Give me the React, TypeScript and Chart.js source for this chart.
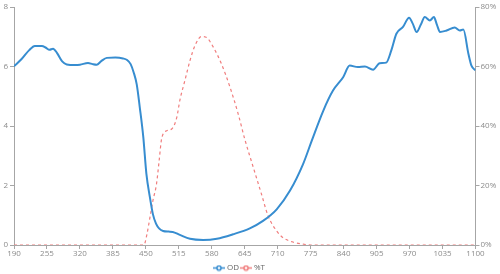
import React, { useEffect, useRef } from "react";
import { Chart, registerables } from "chart.js";

Chart.register(...registerables);

const odWavelengths = [190, 205, 220, 231, 245, 253, 260, 267, 275, 285, 294, 310, 320, 336, 345, 353, 362, 373, 390, 405, 413, 420, 426, 432, 438, 445, 451, 458, 464, 470, 476, 484, 495, 503, 517, 537, 563, 590, 622, 655, 681, 708, 734, 760, 777, 800, 819, 839, 852, 868, 882, 898, 911, 924, 934, 944, 957, 969, 976, 984, 992, 1000, 1010, 1018, 1024, 1030, 1043, 1059, 1069, 1076, 1086, 1092, 1100];
const odValues = [6.01, 6.25, 6.55, 6.69, 6.69, 6.63, 6.56, 6.6, 6.45, 6.17, 6.07, 6.05, 6.06, 6.12, 6.08, 6.06, 6.18, 6.29, 6.3, 6.27, 6.22, 6.08, 5.8, 5.4, 4.63, 3.62, 2.4, 1.6, 1.03, 0.72, 0.56, 0.47, 0.45, 0.44, 0.34, 0.21, 0.17, 0.21, 0.36, 0.56, 0.81, 1.2, 1.82, 2.72, 3.5, 4.52, 5.19, 5.64, 6.03, 5.98, 6.0, 5.89, 6.11, 6.13, 6.54, 7.1, 7.33, 7.64, 7.45, 7.16, 7.4, 7.66, 7.55, 7.66, 7.4, 7.16, 7.21, 7.31, 7.21, 7.24, 6.43, 6.03, 5.87];

const tWavelengths = [190, 446, 452, 458, 464, 471, 476, 481, 491, 501, 511, 517, 527, 537, 547, 560, 570, 583, 599, 616, 632, 645, 662, 678, 691, 708, 720, 740, 760, 775, 1100];
const tValues = [0, 0, 3.5, 9.2, 15, 20.5, 28, 35.6, 38.4, 39, 42.9, 48.6, 55.3, 62, 67.1, 70.1, 69.7, 66.5, 60.9, 53, 44.1, 35.6, 26, 17.1, 9.8, 4.7, 2.5, 1.0, 0.3, 0, 0];

const seriesNames = ["OD", "%T"];
const xMin = 190;
const xMax = 1100;
const xStep = 65;
const odMax = 8;
const odStep = 2;
const tMax = 80;
const tStep = 20;

const BLUE = "rgb(55,141,208)";
const RED = "rgb(240,125,125)";
const AXIS = "#a6a6a6";
const TEXT = "#8c8c8c";
const FONT = "'Open Sans', 'Noto Sans', sans-serif";
const FS = 8;

function makeIcon(color: string) {
  const c = document.createElement("canvas");
  c.width = 12;
  c.height = 7;
  const g = c.getContext("2d")!;
  g.strokeStyle = color;
  g.lineWidth = 1.5;
  g.beginPath();
  g.moveTo(0, 3.5);
  g.lineTo(12, 3.5);
  g.stroke();
  g.fillStyle = "#fff";
  g.beginPath();
  g.arc(6, 3.5, 2.1, 0, Math.PI * 2);
  g.fill();
  g.stroke();
  return c;
}

const legendShift = {
  id: "legendShift",
  afterLayout(chart: any) {
    const lg = chart.legend;
    if (!lg) return;
    const pad = lg.options.labels.padding;
    const dy = 268 - (lg.top + pad + FS / 2);
    lg.top += dy;
    lg.bottom += dy;
    const dx = -10;
    lg.left += dx;
    lg.right += dx;
  },
};

export default function App() {
  const ref = useRef<HTMLCanvasElement | null>(null);
  useEffect(() => {
    if (!ref.current) return;
    const icons = [makeIcon(BLUE), makeIcon(RED)];
    const chart = new Chart(ref.current, {
      type: "line",
      data: {
        datasets: [
          {
            label: seriesNames[0],
            data: odWavelengths.map((x, i) => ({ x, y: odValues[i] })),
            borderColor: BLUE,
            backgroundColor: BLUE,
            borderWidth: 2,
            pointRadius: 0,
            cubicInterpolationMode: "monotone",
            yAxisID: "y",
          },
          {
            label: seriesNames[1],
            data: tWavelengths.map((x, i) => ({ x, y: tValues[i] })),
            borderColor: RED,
            backgroundColor: RED,
            borderWidth: 1.2,
            borderDash: [3, 3],
            pointRadius: 0,
            cubicInterpolationMode: "monotone",
            yAxisID: "y1",
          },
        ],
      },
      options: {
        animation: false,
        responsive: false,
        maintainAspectRatio: false,
        layout: { padding: { top: 7, left: 0, right: 0, bottom: -5.6 } },
        plugins: {
          tooltip: { enabled: false },
          legend: {
            position: "bottom",
            labels: {
              usePointStyle: true,
              pointStyleWidth: 8,
              padding: 3,
              color: "#666",
              font: { family: FONT, size: FS },
              generateLabels: (ch: any) =>
                ch.data.datasets.map((d: any, i: number) => ({
                  text: d.label,
                  pointStyle: icons[i],
                  fillStyle: d.borderColor,
                  strokeStyle: d.borderColor,
                  lineWidth: 0,
                  fontColor: "#666",
                  datasetIndex: i,
                  hidden: false,
                })),
            },
          },
        },
        scales: {
          x: {
            type: "linear",
            min: xMin,
            max: xMax,
            afterBuildTicks: (s: any) => {
              const t = [];
              for (let v = xMin; v <= xMax; v += xStep) t.push({ value: v });
              s.ticks = t;
            },
            grid: { drawOnChartArea: false, drawTicks: true, tickLength: 4, color: AXIS },
            border: { color: AXIS, width: 1 },
            ticks: {
              color: TEXT,
              font: { family: FONT, size: FS },
              padding: 0,
              maxRotation: 0,
              autoSkip: false,
              callback: (v: any) => String(v),
            },
          },
          y: {
            position: "left",
            min: 0,
            max: odMax,
            ticks: { stepSize: odStep, color: TEXT, font: { family: FONT, size: FS }, padding: 2 },
            grid: { drawOnChartArea: false, drawTicks: true, tickLength: 4, color: AXIS },
            border: { color: AXIS, width: 1 },
            afterFit: (s: any) => {
              s.width = 14;
            },
          },
          y1: {
            position: "right",
            min: 0,
            max: tMax,
            ticks: {
              stepSize: tStep,
              color: TEXT,
              font: { family: FONT, size: FS },
              padding: 1,
              callback: (v: any) => v + "%",
            },
            grid: { drawOnChartArea: false, drawTicks: true, tickLength: 4, color: AXIS },
            border: { color: AXIS, width: 1 },
            afterFit: (s: any) => {
              s.width = 24.5;
            },
          },
        },
      },
      plugins: [legendShift],
    } as any);
    return () => chart.destroy();
  }, []);
  return (
    <div style={{ position: "fixed", left: 0, top: 0, width: 500, height: 274, background: "#fff" }}>
      <canvas ref={ref} width={500} height={274} style={{ width: 500, height: 274, display: "block" }} />
    </div>
  );
}
